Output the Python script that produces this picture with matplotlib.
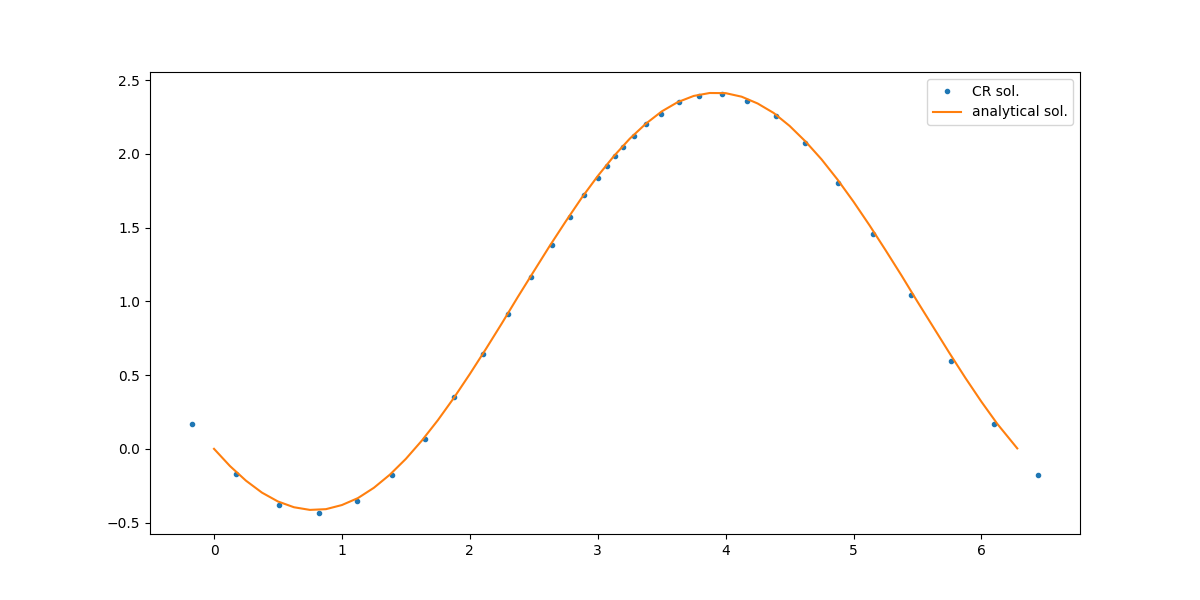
import matplotlib
matplotlib.use("Agg")
import matplotlib.pyplot as plt

# Crank-Nicolson style numerical solution
cr_x = [-0.17, 0.17, 0.51, 0.82, 1.12, 1.39, 1.65, 1.88, 2.10, 2.30, 2.48,
        2.64, 2.78, 2.89, 3.00, 3.07, 3.135, 3.20, 3.28, 3.38, 3.495, 3.635,
        3.79, 3.97, 4.17, 4.39, 4.62, 4.88, 5.15, 5.45, 5.76, 6.10, 6.44]
cr_y = [0.17, -0.17, -0.38, -0.435, -0.355, -0.175, 0.07, 0.35, 0.64, 0.915, 1.165,
        1.38, 1.57, 1.72, 1.835, 1.92, 1.985, 2.045, 2.12, 2.20, 2.27, 2.35,
        2.39, 2.405, 2.36, 2.255, 2.075, 1.80, 1.455, 1.04, 0.595, 0.17, -0.175]

# analytical solution, sampled along the orange curve
an_x = [0.0, 0.125, 0.25, 0.375, 0.5, 0.625, 0.75, 0.875, 1.0, 1.125, 1.25,
        1.375, 1.5, 1.625, 1.75, 1.875, 2.0, 2.125, 2.25, 2.375, 2.5, 2.625,
        2.75, 2.875, 3.0, 3.125, 3.25, 3.375, 3.5, 3.625, 3.75, 3.875, 4.0,
        4.125, 4.25, 4.375, 4.5, 4.625, 4.75, 4.875, 5.0, 5.125, 5.25, 5.375,
        5.5, 5.625, 5.75, 5.875, 6.0, 6.125, 6.28]
an_y = [0.0, -0.117, -0.216, -0.297, -0.357, -0.396, -0.414, -0.409, -0.381,
        -0.334, -0.264, -0.175, -0.068, 0.056, 0.194, 0.345, 0.507, 0.676,
        0.850, 1.029, 1.203, 1.376, 1.542, 1.702, 1.849, 1.983, 2.102, 2.203,
        2.287, 2.350, 2.392, 2.412, 2.411, 2.387, 2.341, 2.277, 2.189, 2.083,
        1.962, 1.825, 1.675, 1.515, 1.347, 1.175, 0.997, 0.823, 0.649, 0.480,
        0.319, 0.168, 0.003]

fig, ax = plt.subplots(figsize=(12, 6), dpi=100)
ax.plot(cr_x, cr_y, '.', label='CR sol.')
ax.plot(an_x, an_y, '-', label='analytical sol.')
ax.legend()

fig.savefig("out.png", dpi=100)
